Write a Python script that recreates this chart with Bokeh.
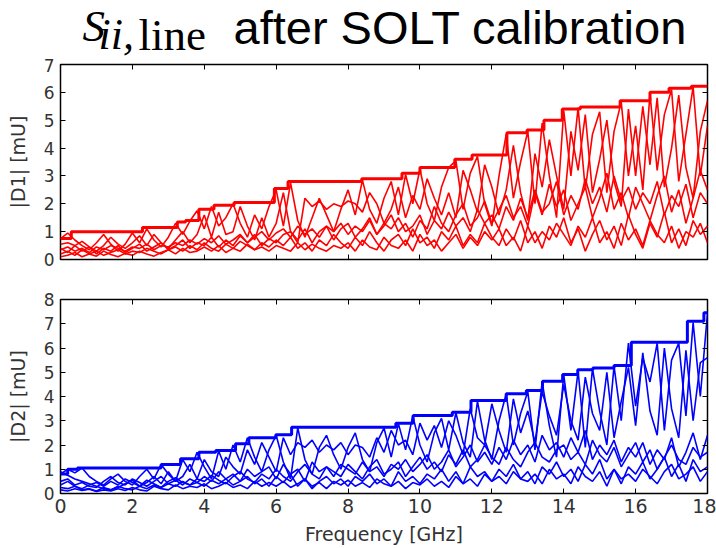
from bokeh.plotting import figure
from bokeh.models import Range1d, LinearAxis, FixedTicker, Label
from bokeh.layouts import column
from bokeh.embed import file_html
from bokeh.resources import INLINE

# ---------------- data ----------------
FREQ_GHZ = [0.0, 0.2, 0.4, 0.6, 0.8, 1.0, 1.2, 1.4, 1.6, 1.8,
            2.0, 2.2, 2.4, 2.6, 2.8, 3.0, 3.2, 3.4, 3.6, 3.8,
            4.0, 4.2, 4.4, 4.6, 4.8, 5.0, 5.2, 5.4, 5.6, 5.8,
            6.0, 6.2, 6.4, 6.6, 6.8, 7.0, 7.2, 7.4, 7.6, 7.8,
            8.0, 8.2, 8.4, 8.6, 8.8, 9.0, 9.2, 9.4, 9.6, 9.8,
            10.0, 10.2, 10.4, 10.6, 10.8, 11.0, 11.2, 11.4, 11.6, 11.8,
            12.0, 12.2, 12.4, 12.6, 12.8, 13.0, 13.2, 13.4, 13.6, 13.8,
            14.0, 14.2, 14.4, 14.6, 14.8, 15.0, 15.2, 15.4, 15.6, 15.8,
            16.0, 16.2, 16.4, 16.6, 16.8, 17.0, 17.2, 17.4, 17.6, 17.8,
            18.0]

X_TICKS = [0, 2, 4, 6, 8, 10, 12, 14, 16, 18]
D1_Y_TICKS = [0, 1, 2, 3, 4, 5, 6, 7]
D2_Y_TICKS = [0, 1, 2, 3, 4, 5, 6, 7, 8]

# |D1| max-hold envelope (step)
D1_ENV_F = [0.0, 0.3, 2.28, 3.25, 3.48, 3.85, 4.27, 4.83, 5.95, 6.33, 8.38, 9.5, 10.0,
            10.97, 11.45, 12.42, 12.98, 13.45, 13.96, 14.46, 15.57, 16.4, 16.93, 17.55, 18.0]
D1_ENV_V = [0.75, 1.0, 1.15, 1.35, 1.4, 1.8, 1.95, 2.05, 2.55, 2.8, 2.9, 3.1, 3.3,
            3.6, 3.75, 4.55, 4.65, 5.0, 5.4, 5.47, 5.7, 6.0, 6.15, 6.22, 6.22]

D1_A = [0.75, 0.95, 0.7, 0.5, 0.35, 0.6, 0.9, 0.55, 0.3, 0.55,
        0.95, 0.6, 1.1, 0.7, 0.45, 0.8, 1.3, 0.9, 1.38, 1.75,
        1.1, 1.9, 1.2, 1.5, 2.0, 1.3, 0.8, 1.6, 1.1, 1.9,
        2.5, 1.2, 2.75, 1.4, 0.8, 1.5, 2.2, 1.6, 1.0, 1.8,
        2.5, 1.6, 2.85, 1.8, 1.3, 2.2, 2.8, 1.6, 3.05, 2.0,
        3.25, 2.0, 1.4, 2.6, 3.3, 3.55, 1.8, 3.1, 3.7, 2.0,
        1.2, 3.0, 4.5, 2.2, 3.5, 4.6, 2.0, 4.9, 3.0, 1.5,
        5.35, 3.0, 5.45, 2.5, 4.5, 5.3, 2.4, 4.6, 5.65, 3.0,
        4.8, 2.5, 5.95, 3.2, 5.2, 6.1, 2.8, 4.5, 6.2, 3.0,
        4.8]
D1_B = [0.55, 0.6, 0.5, 0.65, 0.45, 0.3, 0.5, 0.8, 0.55, 0.4,
        0.6, 0.85, 0.5, 0.9, 0.6, 0.4, 0.7, 1.0, 0.6, 0.9,
        1.6, 0.8, 1.7, 0.9, 1.0, 1.9, 1.2, 0.7, 1.5, 0.8,
        1.3, 2.4, 1.0, 0.6, 2.2, 1.9, 2.1, 1.8, 2.0, 1.9,
        2.1, 2.0, 1.7, 2.4, 2.0, 1.3, 1.8, 2.6, 1.5, 2.3,
        1.8, 2.9, 2.2, 1.6, 2.4, 1.5, 3.2, 2.5, 1.7, 3.4,
        2.6, 1.6, 2.5, 4.1, 2.4, 1.4, 3.8, 2.6, 4.3, 3.0,
        1.8, 4.6, 3.2, 5.2, 2.4, 3.6, 5.0, 2.8, 1.9, 5.4,
        3.0, 5.5, 3.4, 5.8, 2.6, 4.0, 5.9, 3.3, 2.2, 4.6,
        5.7]
D1_C = [0.35, 0.45, 0.3, 0.4, 0.25, 0.45, 0.35, 0.5, 0.4, 0.3,
        0.45, 0.4, 0.55, 0.35, 0.5, 0.45, 0.6, 0.5, 0.7, 0.55,
        0.75, 0.6, 0.85, 0.55, 0.7, 0.9, 0.6, 0.8, 1.0, 0.7,
        0.95, 1.1, 0.8, 1.2, 0.9, 1.1, 0.8, 1.2, 1.0, 1.3,
        0.9, 1.2, 1.0, 1.4, 0.9, 1.3, 1.1, 1.5, 1.0, 1.2,
        1.6, 0.9, 1.4, 1.1, 1.7, 1.2, 1.5, 1.0, 1.8, 1.3,
        1.6, 1.1, 1.9, 1.4, 2.2, 1.5, 2.5, 1.7, 2.0, 2.8,
        1.6, 2.3, 1.8, 2.9, 2.0, 2.6, 1.7, 3.0, 2.1, 2.6,
        1.8, 2.4, 2.0, 2.8, 1.6, 2.3, 1.9, 2.7, 1.5, 2.4,
        2.0]
D1_D = [0.2, 0.3, 0.15, 0.35, 0.2, 0.3, 0.15, 0.25, 0.35, 0.2,
        0.3, 0.25, 0.4, 0.3, 0.2, 0.35, 0.45, 0.3, 0.5, 0.35,
        0.6, 0.4, 0.3, 0.55, 0.4, 0.65, 0.5, 0.35, 0.6, 0.45,
        0.7, 0.5, 0.8, 0.4, 0.6, 0.3, 0.7, 0.5, 0.9, 0.6,
        0.4, 0.8, 0.5, 1.0, 0.6, 0.3, 0.7, 0.9, 0.5, 1.1,
        0.6, 0.8, 0.4, 1.0, 0.7, 1.2, 0.5, 0.9, 0.6, 1.3,
        0.8, 0.5, 1.1, 0.7, 1.4, 0.6, 1.0, 0.4, 1.2, 0.8,
        1.5, 0.6, 1.1, 0.3, 0.9, 1.4, 0.7, 1.2, 0.5, 1.6,
        0.9, 0.4, 1.3, 0.8, 1.7, 0.6, 1.1, 0.5, 1.4, 0.9,
        1.2]
D1_E = [0.1, 0.15, 0.25, 0.1, 0.2, 0.12, 0.3, 0.18, 0.1, 0.22,
        0.15, 0.3, 0.2, 0.12, 0.25, 0.35, 0.2, 0.4, 0.25, 0.3,
        0.45, 0.3, 0.5, 0.25, 0.4, 0.3, 0.55, 0.35, 0.45, 0.3,
        0.5, 0.4, 0.3, 0.6, 0.35, 0.55, 0.4, 0.3, 0.5, 0.4,
        0.6, 0.3, 0.7, 0.45, 0.35, 0.8, 0.5, 0.4, 0.7, 0.3,
        0.9, 0.5, 0.7, 0.3, 0.6, 0.9, 0.4, 0.8, 0.5, 1.0,
        0.7, 1.1, 0.5, 0.8, 0.3, 1.2, 0.6, 1.0, 0.7, 1.3,
        0.9, 0.5, 1.2, 0.8, 1.5, 0.6, 1.0, 0.4, 1.3, 0.7,
        1.1, 0.5, 1.4, 0.9, 0.6, 1.2, 0.4, 1.0, 0.8, 1.3,
        0.6]
D1_F = [0.4, 0.25, 0.5, 0.3, 0.45, 0.2, 0.4, 0.3, 0.5, 0.25,
        0.4, 0.55, 0.3, 0.45, 0.6, 0.35, 0.5, 0.7, 0.4, 0.6,
        0.5, 0.8, 0.45, 0.7, 0.5, 0.85, 0.6, 0.9, 0.5, 0.75,
        0.6, 0.9, 1.0, 0.7, 1.1, 0.6, 1.0, 1.2, 0.7, 1.1,
        1.3, 0.8, 1.1, 1.5, 0.9, 1.2, 1.6, 1.0, 1.3, 0.8,
        1.4, 1.1, 1.9, 1.3, 1.0, 1.6, 2.0, 1.2, 1.5, 2.1,
        1.3, 1.8, 2.3, 1.5, 1.9, 1.2, 2.4, 1.6, 2.7, 1.9,
        2.5, 1.4, 2.0, 2.6, 1.5, 2.2, 3.1, 1.8, 2.4, 1.5,
        2.6, 2.0, 1.4, 2.3, 3.0, 1.7, 2.5, 1.3, 2.2, 3.2,
        2.5]

# |D2| max-hold envelope (step)
D2_ENV_F = [0.0, 0.2, 0.47, 2.8, 3.34, 3.85, 4.32, 4.87, 5.24, 5.99, 6.43, 9.33, 9.81,
            10.9, 11.42, 12.4, 12.96, 13.41, 13.97, 14.39, 14.81, 15.4, 15.88, 17.44, 17.9, 18.0]
D2_ENV_V = [0.8, 1.0, 1.05, 1.2, 1.43, 1.7, 1.77, 2.05, 2.3, 2.42, 2.73, 2.9, 3.22,
            3.35, 3.83, 4.11, 4.25, 4.63, 4.91, 5.1, 5.18, 5.28, 6.24, 7.1, 7.45, 7.45]

D2_A = [0.8, 1.0, 0.85, 1.05, 0.7, 0.5, 0.35, 0.6, 0.8, 0.5,
        0.35, 0.7, 1.0, 0.6, 1.2, 0.8, 0.5, 1.4, 0.9, 1.7,
        1.1, 0.6, 1.75, 1.0, 2.0, 1.3, 2.3, 1.5, 0.9, 1.8,
        2.4, 1.3, 0.6, 2.7, 1.4, 0.8, 1.9, 2.4, 1.6, 1.0,
        1.9, 2.5, 1.4, 0.9, 2.1, 2.7, 1.5, 2.88, 1.8, 3.2,
        2.0, 1.3, 2.5, 3.1, 1.8, 3.33, 2.1, 1.5, 3.8, 2.2,
        1.4, 3.0, 4.1, 2.0, 3.3, 4.2, 1.8, 4.6, 2.8, 1.5,
        4.9, 2.6, 5.05, 1.9, 5.15, 3.4, 2.0, 5.25, 3.0, 6.2,
        3.6, 5.6, 4.6, 6.2, 2.6, 5.5, 6.2, 3.2, 7.05, 4.0,
        7.45]
D2_B = [0.9, 0.75, 0.6, 0.5, 0.4, 0.3, 0.2, 0.15, 0.25, 0.4,
        0.55, 0.3, 0.45, 0.7, 0.4, 0.9, 0.5, 0.7, 1.2, 0.6,
        1.4, 0.9, 0.7, 1.5, 1.1, 0.8, 1.8, 1.2, 2.1, 1.5,
        0.9, 2.3, 1.6, 2.1, 1.9, 2.2, 1.7, 2.0, 1.8, 2.1,
        1.6, 2.0, 1.9, 1.5, 2.3, 1.7, 2.6, 2.0, 2.2, 1.6,
        2.9, 2.2, 2.8, 1.9, 3.0, 2.4, 1.6, 3.5, 2.3, 2.0,
        3.7, 2.6, 1.7, 3.9, 2.5, 3.4, 2.1, 4.2, 3.2, 2.4,
        4.5, 3.0, 2.2, 4.8, 3.3, 2.6, 5.0, 2.3, 3.8, 5.2,
        2.8, 5.8, 3.4, 2.4, 6.0, 3.5, 2.3, 5.9, 3.0, 5.4,
        5.6]
D2_C = [0.5, 0.6, 0.35, 0.45, 0.3, 0.25, 0.5, 0.7, 0.45, 0.35,
        0.6, 0.45, 0.3, 0.5, 0.7, 0.4, 0.55, 0.35, 0.6, 0.45,
        0.7, 0.5, 0.9, 0.6, 0.8, 0.5, 1.0, 0.7, 0.9, 1.1,
        0.6, 1.2, 0.8, 1.0, 0.5, 1.3, 0.9, 1.1, 0.7, 1.2,
        1.0, 0.8, 1.3, 0.9, 1.1, 0.7, 1.2, 1.0, 1.4, 0.9,
        1.2, 1.6, 1.0, 1.3, 1.8, 1.1, 1.5, 2.0, 1.3, 1.7,
        1.2, 1.9, 1.4, 2.2, 1.6, 2.0, 1.3, 2.4, 1.8, 2.1,
        1.5, 2.3, 1.7, 2.6, 1.4, 2.0, 1.6, 2.2, 1.3, 1.9,
        1.5, 2.1, 1.2, 1.8, 1.4, 2.3, 1.1, 1.7, 2.5, 1.4,
        2.4]
D2_D = [0.25, 0.2, 0.3, 0.15, 0.2, 0.1, 0.25, 0.15, 0.3, 0.2,
        0.15, 0.3, 0.2, 0.35, 0.25, 0.4, 0.3, 0.5, 0.35, 0.45,
        0.3, 0.55, 0.4, 0.6, 0.35, 0.5, 0.7, 0.4, 0.6, 0.3,
        0.7, 0.45, 0.8, 0.3, 0.6, 0.2, 0.5, 0.7, 0.4, 0.6,
        0.3, 0.7, 0.5, 0.8, 0.4, 0.6, 0.3, 0.9, 0.5, 0.7,
        0.4, 0.8, 0.6, 1.0, 0.5, 0.9, 0.4, 1.1, 0.7, 0.9,
        0.5, 1.0, 0.7, 1.2, 0.6, 0.9, 0.4, 1.1, 0.8, 1.3,
        0.7, 1.0, 0.5, 1.2, 0.8, 1.4, 0.6, 1.0, 0.4, 1.1,
        0.8, 1.3, 0.6, 1.0, 1.5, 0.7, 1.2, 0.5, 1.4, 0.9,
        1.1]
D2_E = [0.15, 0.1, 0.2, 0.12, 0.18, 0.08, 0.15, 0.1, 0.2, 0.12,
        0.25, 0.15, 0.1, 0.3, 0.2, 0.15, 0.35, 0.2, 0.3, 0.25,
        0.4, 0.2, 0.3, 0.45, 0.25, 0.35, 0.2, 0.5, 0.3, 0.45,
        0.3, 0.5, 0.25, 0.4, 0.6, 0.3, 0.45, 0.2, 0.5, 0.35,
        0.55, 0.3, 0.45, 0.25, 0.6, 0.4, 0.3, 0.5, 0.2, 0.45,
        0.35, 0.6, 0.3, 0.5, 0.25, 0.7, 0.4, 0.6, 0.3, 0.8,
        0.5, 0.7, 0.4, 0.9, 0.6, 0.5, 0.8, 0.4, 1.0, 0.6,
        0.8, 0.4, 1.1, 0.7, 0.5, 0.9, 0.3, 1.0, 0.6, 0.8,
        0.5, 1.0, 0.7, 0.4, 0.9, 1.2, 0.6, 0.8, 1.1, 0.5,
        0.9]
D2_F = [0.35, 0.5, 0.3, 0.2, 0.35, 0.45, 0.3, 0.5, 0.35, 0.6,
        0.45, 0.3, 0.55, 0.4, 0.25, 0.5, 0.65, 0.45, 0.35, 0.6,
        0.5, 0.75, 0.55, 0.4, 0.7, 0.9, 0.6, 0.45, 0.8, 0.6,
        1.0, 0.7, 0.5, 0.9, 1.2, 0.8, 0.6, 1.1, 0.9, 0.7,
        1.2, 0.9, 0.6, 1.1, 1.4, 0.8, 1.0, 1.3, 0.7, 1.1,
        1.5, 1.0, 1.3, 0.9, 1.6, 1.2, 1.8, 1.1, 1.4, 2.0,
        1.5, 1.2, 1.9, 1.4, 1.1, 1.7, 2.1, 1.5, 1.3, 1.8,
        2.0, 1.4, 1.7, 1.2, 2.2, 1.6, 1.3, 1.9, 1.1, 1.6,
        2.1, 1.3, 1.8, 1.0, 1.5, 2.0, 1.4, 1.2, 1.9, 1.5,
        1.7]

RED = "#ff0000"
BLUE = "#0000ff"
TXT = "#333333"
W = 716
BL, BR = 60, 9          # left / right borders (frames aligned by the column)
TH = 58                  # title strip height

# ---------------- title strip (data coords == page px) ----------------
tfig = figure(width=W, height=TH, x_range=Range1d(BL, W - BR), y_range=Range1d(TH, 0),
              x_axis_type=None, y_axis_type=None,
              output_backend="svg", toolbar_location=None,
              min_border_left=BL, min_border_right=BR, min_border_top=0, min_border_bottom=0,
              outline_line_color=None)
tfig.grid.visible = False


def tlabel(x, y, text, font, size, style="normal"):
    tfig.add_layout(Label(x=x, y=y, text=text, text_font=font, text_font_size=size,
                          text_font_style=style, text_color="black",
                          text_baseline="middle"))


tlabel(82, 25, "S", "Liberation Serif", "45px", "italic")
tlabel(98, 34, "ii,", "Liberation Serif", "44px", "italic")
tlabel(138, 34, "line", "Liberation Serif", "45px")
tlabel(233, 27, "after SOLT calibration", "Liberation Sans", "47px")


def style_axis(ax, ticks, labels, label_size="17px"):
    ax.ticker = FixedTicker(ticks=ticks)
    ax.major_tick_in = 5
    ax.major_tick_out = 0
    ax.major_tick_line_color = "black"
    ax.major_tick_line_width = 1
    ax.minor_tick_line_color = None
    ax.axis_line_color = None
    if labels:
        ax.major_label_text_font = "DejaVu Sans"
        ax.major_label_text_font_size = label_size
        ax.major_label_text_color = TXT
    else:
        ax.major_label_overrides = {t: "" for t in ticks}
        ax.major_label_text_font_size = "1px"
        ax.major_label_standoff = 0


def panel(height, yr, yticks, ylabel, color, env_f, env_v, curves,
          border_top, border_bottom, show_x):
    p = figure(width=W, height=height, x_range=Range1d(0, 18), y_range=Range1d(0, yr),
               output_backend="svg", toolbar_location=None,
               min_border_left=BL, min_border_right=BR,
               min_border_top=border_top, min_border_bottom=border_bottom)
    p.grid.visible = False
    p.outline_line_color = "black"
    p.outline_line_width = 1.5
    p.background_fill_color = "white"
    p.border_fill_color = "white"
    p.add_layout(LinearAxis(), "above")
    p.add_layout(LinearAxis(), "right")
    for ax in p.xaxis:
        style_axis(ax, X_TICKS, False)
    for ax in p.yaxis:
        style_axis(ax, yticks, False)
    for ax in p.left:
        style_axis(ax, yticks, True, "17px")
        ax.major_label_overrides = {}
        ax.major_label_standoff = 6
        ax.axis_label = ylabel
        ax.axis_label_text_font = "DejaVu Sans"
        ax.axis_label_text_font_size = "19px"
        ax.axis_label_text_font_style = "normal"
        ax.axis_label_text_color = TXT
        ax.axis_label_standoff = 12
    if show_x:
        for ax in p.below:
            style_axis(ax, X_TICKS, True, "19px")
            ax.major_label_overrides = {}
            ax.major_label_standoff = 5
            ax.axis_label = "Frequency [GHz]"
            ax.axis_label_text_font = "DejaVu Sans"
            ax.axis_label_text_font_size = "19px"
            ax.axis_label_text_font_style = "normal"
            ax.axis_label_text_color = TXT
            ax.axis_label_standoff = 7
    for c in curves:
        p.line(FREQ_GHZ, c, line_color=color, line_width=1.6)
    p.step(env_f, env_v, mode="after", line_color=color, line_width=3)
    return p


p1 = panel(6 + 195 + 20, 7, D1_Y_TICKS, "|D1| [mU]", RED, D1_ENV_F, D1_ENV_V,
           [D1_E, D1_D, D1_C, D1_F, D1_B, D1_A], 6, 20, False)
p2 = panel(20 + 194 + 55, 8, D2_Y_TICKS, "|D2| [mU]", BLUE, D2_ENV_F, D2_ENV_V,
           [D2_E, D2_D, D2_C, D2_F, D2_B, D2_A], 20, 55, True)

layout = column(tfig, p1, p2, spacing=0)
open("out.html", "w").write(file_html(layout, INLINE))
